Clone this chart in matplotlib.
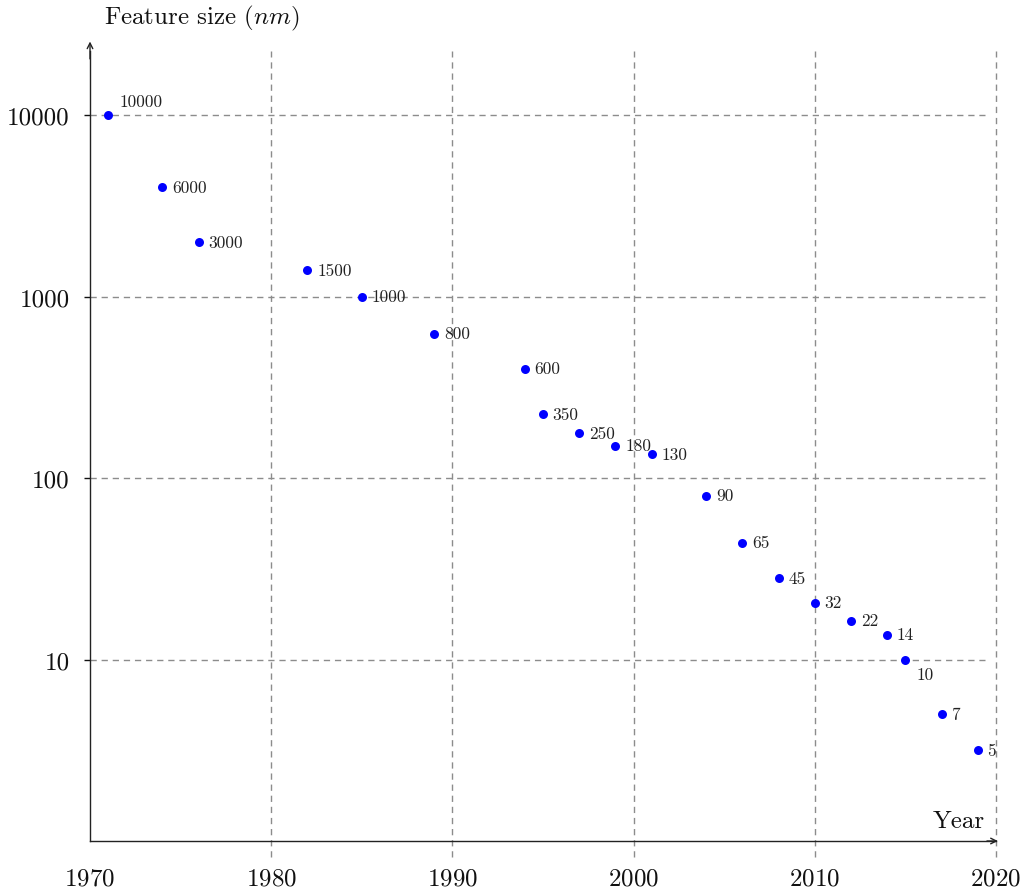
import numpy as np
import matplotlib
matplotlib.use('Agg')
import matplotlib.pyplot as plt
from matplotlib.ticker import FixedLocator, NullLocator, FixedFormatter

plt.rcParams['font.family'] = 'serif'
plt.rcParams['font.serif'] = ['cmr10', 'DejaVu Serif']
plt.rcParams['mathtext.fontset'] = 'cm'
plt.rcParams['axes.unicode_minus'] = False
plt.rcParams['axes.formatter.use_mathtext'] = True

# data
years = [1971, 1974, 1976, 1982, 1985, 1989, 1994, 1995, 1997, 1999,
         2001, 2004, 2006, 2008, 2010, 2012, 2014, 2015, 2017, 2019]
sizes = [10000, 4000, 2000, 1400, 1000, 625, 400, 224, 176, 151,
         135, 80, 44, 28, 20.6, 16.4, 13.7, 10, 5, 3.16]
labels = ['10000', '6000', '3000', '1500', '1000', '800', '600', '350', '250', '180',
          '130', '90', '65', '45', '32', '22', '14', '10', '7', '5']
# label anchor: 'e' east, 'ne' north east, 'se' south east
anchors = ['ne'] + ['e'] * 16 + ['se', 'e', 'e']

x_ticks = [1970, 1980, 1990, 2000, 2010, 2020]
y_ticks = [10, 100, 1000, 10000]

fig = plt.figure(figsize=(10.27, 8.95), dpi=100)
ax = fig.add_axes([90 / 1027, 53 / 895, 906 / 1027, 790 / 895])
ax.set_yscale('log')
ax.set_xlim(1970, 2020)
ax.set_ylim(1, 10 ** 4.353)

# dashed grid
gcol = '#8c8c8c'
for x in x_ticks[1:]:
    ax.axvline(x, ymin=-0.02, ymax=1.0, color=gcol, lw=1.0,
               dashes=(4.5, 3.5), clip_on=False, zorder=1)
for y in y_ticks:
    ax.axhline(y, xmin=0, xmax=0.988, color=gcol, lw=1.0,
               dashes=(4.5, 3.5), zorder=1)

ax.scatter(years, sizes, s=42, color='#0000ff', zorder=3, linewidths=0)

offs = {'e': (7, 0, 'left', 'center'),
        'ne': (8, 10, 'left', 'center'),
        'se': (8, -11, 'left', 'center')}
for x, y, t, a in zip(years, sizes, labels, anchors):
    dx, dy, ha, va = offs[a]
    ax.annotate(t, (x, y), xytext=(dx, dy), textcoords='offset points',
                ha=ha, va=va, fontsize=12.5, color='#222222', zorder=4)

# axes lines with arrows
for s in ['top', 'right']:
    ax.spines[s].set_visible(False)
for s in ['left', 'bottom']:
    ax.spines[s].set_linewidth(1.0)
    ax.spines[s].set_color('#222222')
ax.annotate('', xy=(0, 1.012), xytext=(0, 0.99), xycoords='axes fraction',
            arrowprops=dict(arrowstyle='->', lw=1.0, color='#222222',
                            shrinkA=0, shrinkB=0), annotation_clip=False)
ax.annotate('', xy=(1.002, 0), xytext=(0.99, 0), xycoords='axes fraction',
            arrowprops=dict(arrowstyle='->', lw=1.0, color='#222222',
                            shrinkA=0, shrinkB=0), annotation_clip=False)

ax.xaxis.set_major_locator(FixedLocator(x_ticks))
ax.xaxis.set_minor_locator(NullLocator())
ax.yaxis.set_major_locator(FixedLocator(y_ticks))
ax.yaxis.set_major_formatter(FixedFormatter([str(v) for v in y_ticks]))
ax.yaxis.set_minor_locator(NullLocator())
ax.tick_params(axis='x', length=0, pad=19, labelsize=18, colors='#111111')
ax.tick_params(axis='y', direction='out', length=4.5, width=1.0, pad=10,
               labelsize=18, colors='#111111')

ax.text(0.988, 0.025, 'Year', transform=ax.transAxes, ha='right', va='center',
        fontsize=18, color='#111111')
fig.text(202 / 1027, 1 - 18 / 895, r'Feature size ($nm$)', ha='center', va='center',
         fontsize=18, color='#111111')

fig.savefig('out.png', dpi=100)
